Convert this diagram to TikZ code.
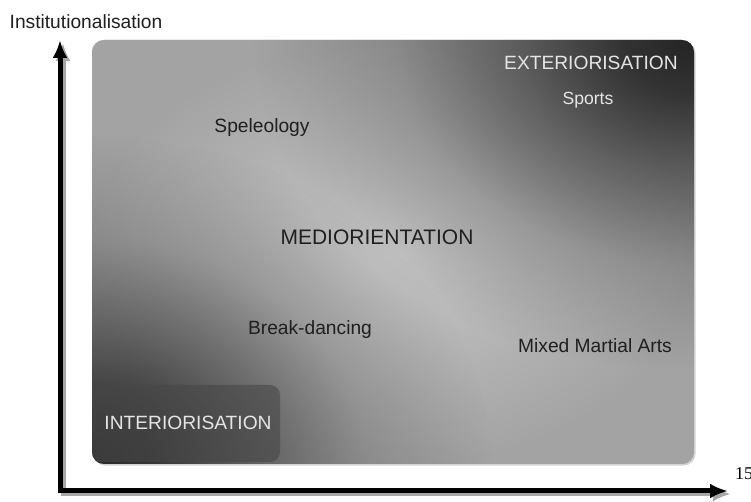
\documentclass[tikz,border=0pt]{standalone}
\usepackage{fontspec}
\setmainfont{Liberation Sans}
\newfontfamily\numfont{Liberation Serif}
\usetikzlibrary{arrows.meta,shadows,fadings}

% dark corner that fades out towards the middle
\pgfdeclareradialshading{cornershade}{\pgfpointorigin}{color(0bp)=(white); color(4bp)=(white!88!black);
  color(10bp)=(white!55!black); color(17bp)=(white!20!black); color(25bp)=(black); color(50bp)=(black)}
\pgfdeclarefading{cornerfade}{\pgfuseshading{cornershade}}

\begin{document}
\begin{tikzpicture}[x=0.5pt,y=-0.5pt,
    lbl/.style={font=\fontsize{9.6}{11}\selectfont, text=black!88},
    pale/.style={lbl, text=white!90!black},
    axis/.style={line width=2.5pt, line join=miter, {Latex[length=9pt,width=7.5pt]}-{Latex[length=9pt,width=7.5pt]}}]
    \useasboundingbox (0,0) rectangle (751,502);
    % axes, with a soft shadow
    \coordinate (ytip) at (60,40);
    \coordinate (O) at (60,491);
    \coordinate (xtip) at (728,491);
    \draw[axis, black!35] ([shift={(3,3)}]ytip) -- ([shift={(3,3)}]O) -- ([shift={(3,3)}]xtip);
    \draw[axis] (ytip) -- (O) -- (xtip);
    \node[lbl] (inst) at (86,22) {Institutionalisation};
    \node[font=\numfont\fontsize{9}{10}\selectfont] (fifteen) at (744,474) {15};
    % the field
    \fill[black!30, rounded corners=6pt,
        drop shadow={opacity=0.35, shadow xshift=0.8pt, shadow yshift=-0.8pt}]
        (92,40) rectangle (694,464);
    \begin{scope}
        \clip[rounded corners=6pt] (92,40) rectangle (694,464);
        \shade[inner color=black!22, outer color=black!36] (92,40) rectangle (694,464);
        \fill[black!86, path fading=cornerfade] (694,40) ellipse [x radius=440, y radius=330];
        \fill[black!84, path fading=cornerfade] (92,464) ellipse [x radius=400, y radius=330];
    \end{scope}
    \fill[black!72, opacity=0.6, rounded corners=5pt] (92,385) rectangle (280,462);
    \node[pale] (ext) at (591,63) {EXTERIORISATION};
    \node[pale, font=\fontsize{8.8}{10}\selectfont] (sports) at (588,100) {Sports};
    \node[lbl] (spel) at (262,128) {Speleology};
    \node[lbl, font=\fontsize{10.5}{12}\selectfont] (medio) at (377,237) {MEDIORIENTATION};
    \node[lbl] (breakd) at (310,330) {Break-dancing};
    \node[lbl] (mma) at (595,346) {Mixed Martial Arts};
    \node[pale] (inter) at (188,423) {INTERIORISATION};
\end{tikzpicture}
\end{document}
